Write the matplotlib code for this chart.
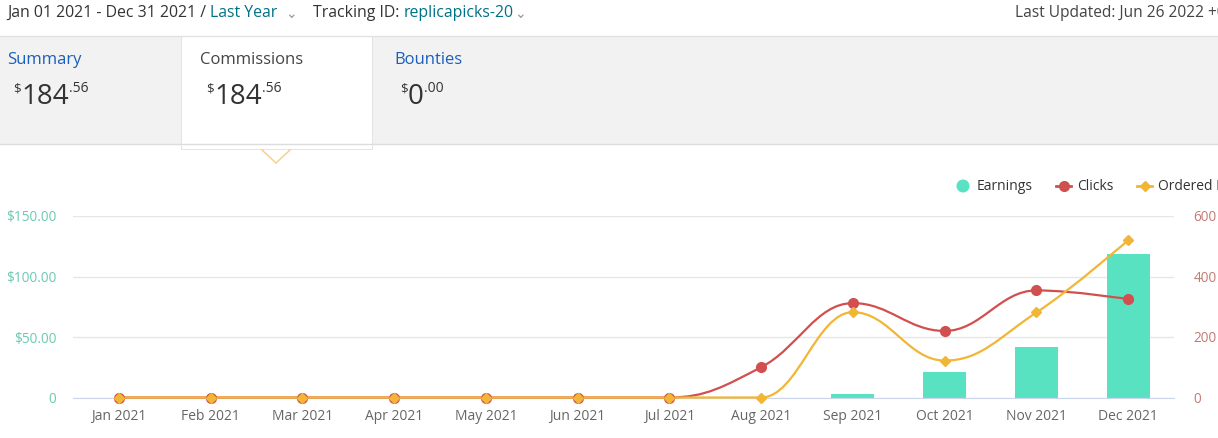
import numpy as np
import matplotlib.pyplot as plt
from matplotlib.path import Path
from matplotlib.patches import PathPatch, Rectangle, Circle

plt.rcParams['font.family'] = ['Open Sans', 'DejaVu Sans']

months = ['Jan 2021', 'Feb 2021', 'Mar 2021', 'Apr 2021', 'May 2021', 'Jun 2021',
          'Jul 2021', 'Aug 2021', 'Sep 2021', 'Oct 2021', 'Nov 2021', 'Dec 2021']
earnings = [0, 0, 0, 0, 0, 0, 0, 0, 3.0, 21.0, 42.0, 118.5]
clicks = [0, 0, 0, 0, 0, 0, 0, 100, 312, 220, 354, 325]
ordered = [0, 0, 0, 0, 0, 0, 0, 0, 282, 122, 281, 520]

TEAL = '#58e2c2'
RED = '#d24f4f'
ORANGE = '#f2b636'


def spline_path(xs, ys, smoothing=1.5):
    # highcharts style spline: bezier control points per point
    n = len(xs)
    lc = [None] * n
    rc = [None] * n
    d = smoothing + 1
    for i in range(1, n - 1):
        x, y = xs[i], ys[i]
        lx, ly = xs[i - 1], ys[i - 1]
        nx, ny = xs[i + 1], ys[i + 1]
        lcx = (smoothing * x + lx) / d
        lcy = (smoothing * y + ly) / d
        rcx = (smoothing * x + nx) / d
        rcy = (smoothing * y + ny) / d
        corr = (rcy - lcy) * (rcx - x) / (rcx - lcx) + y - rcy
        lcy += corr
        rcy += corr
        if lcy > ly and lcy > y:
            lcy = max(ly, y); rcy = 2 * y - lcy
        elif lcy < ly and lcy < y:
            lcy = min(ly, y); rcy = 2 * y - lcy
        if rcy > ny and rcy > y:
            rcy = max(ny, y); lcy = 2 * y - rcy
        elif rcy < ny and rcy < y:
            rcy = min(ny, y); lcy = 2 * y - rcy
        lc[i] = (lcx, lcy)
        rc[i] = (rcx, rcy)
    verts = [(xs[0], ys[0])]
    codes = [Path.MOVETO]
    for i in range(1, n):
        c1 = rc[i - 1] or (xs[i - 1], ys[i - 1])
        c2 = lc[i] or (xs[i], ys[i])
        verts += [c1, c2, (xs[i], ys[i])]
        codes += [Path.CURVE4] * 3
    return Path(verts, codes)


fig = plt.figure(figsize=(12.18, 4.38), dpi=100)
bg = fig.add_axes([0, 0, 1, 1])
bg.set_xlim(0, 1218)
bg.set_ylim(438, 0)
bg.axis('off')

# header strip
dark = '#333333'
link = '#007185'
t = bg.text(7, 13, 'Jan 01 2021 - Dec 31 2021 / ', fontsize=11.4, color=dark, va='center')
t = bg.annotate('Last Year', xy=(1, 0.5), xycoords=t, fontsize=11.4, color=link, va='center')
bg.text(291, 14, '⌄', fontsize=10, color='#999999', ha='center', va='center', family='DejaVu Sans')
t = bg.text(313, 13, 'Tracking ID: ', fontsize=11.4, color=dark, va='center')
bg.annotate('replicapicks-20', xy=(1, 0.5), xycoords=t, fontsize=11.4, color=link, va='center')
bg.text(520, 14, '⌄', fontsize=10, color='#999999', ha='center', va='center', family='DejaVu Sans')
bg.text(1015, 13, 'Last Updated: Jun 26 2022 +0', fontsize=11.2, color='#444444', va='center')

# grey panel with tabs
bg.add_patch(Rectangle((0, 36), 1218, 108, fc='#f2f2f2', ec='none'))
bg.plot([0, 1218], [36, 36], color='#e2e2e2', lw=1)
bg.plot([0, 1218], [144, 144], color='#dddddd', lw=1)
bg.add_patch(Rectangle((181, 36), 192, 114, fc='#e4e4e4', ec='none'))
bg.add_patch(Rectangle((182, 36), 190, 113, fc='white', ec='none'))
bg.plot([262, 276, 290], [150, 163, 150], color='#f7cd85', lw=1)

tabs = [(7, 'Summary', '#1a5fbf', '184', '.56'),
        (200, 'Commissions', '#444444', '184', '.56'),
        (394, 'Bounties', '#1a5fbf', '0', '.00')]
for x0, name, col, big, cents in tabs:
    bg.text(x0, 60, name, fontsize=12, color=col, va='center')
    tb = bg.text(x0 + 14, 104, big, fontsize=20, color='#333333', va='baseline')
    bg.annotate('$', xy=(0, 0.8), xycoords=tb, fontsize=9.5, color='#333333', ha='right', va='center')
    bg.annotate(cents, xy=(1, 0.8), xycoords=tb, fontsize=10, color='#333333', ha='left', va='center')

# legend
bg.add_patch(Circle((963, 186), 6.5, fc=TEAL, ec='none'))
bg.text(977, 186, 'Earnings', fontsize=10, color='#333333', va='center')
bg.plot([1056, 1071], [186, 186], color=RED, lw=2)
bg.plot([1063.5], [186], 'o', color=RED, ms=7)
bg.text(1077, 186, 'Clicks', fontsize=10, color='#333333', va='center')
bg.plot([1137, 1152], [186, 186], color=ORANGE, lw=2)
bg.plot([1144.5], [186], 'D', color=ORANGE, ms=5)
bg.text(1158, 186, 'Ordered Items', fontsize=10, color='#333333', va='center')

# chart
ax = fig.add_axes([73 / 1218, (438 - 397.5) / 438, (1174 - 73) / 1218, 181.5 / 438])
x = np.arange(len(months))
ax.bar(x, earnings, width=0.47, color=TEAL, zorder=2)
ax.set_xlim(-0.5, 11.5)
ax.set_ylim(0, 150)
ax.set_yticks([0, 50, 100, 150])
ax.set_yticklabels(['0', '$50.00', '$100.00', '$150.00'])
ax.set_xticks(x)
ax.set_xticklabels(months)
ax.grid(axis='y', color='#e6e6e6', lw=1, zorder=0)
ax.set_axisbelow(True)
for s in ['top', 'left', 'right']:
    ax.spines[s].set_visible(False)
ax.spines['bottom'].set_color('#ccd6eb')
ax.tick_params(axis='y', length=0, pad=12, labelsize=9.8, labelcolor='#6cc9b2')
ax.tick_params(axis='x', length=0, pad=8, labelsize=10, labelcolor='#666666')

ax2 = ax.twinx()
ax2.set_ylim(0, 600)
ax2.set_yticks([0, 200, 400, 600])
for s in ax2.spines.values():
    s.set_visible(False)
ax2.tick_params(axis='y', length=0, pad=14, labelsize=9.8, labelcolor='#c27a72')

ax2.add_patch(PathPatch(spline_path(x, clicks), fc='none', ec=RED, lw=1.6, clip_on=False))
ax2.plot(x, clicks, 'o', color=RED, ms=7, clip_on=False)
ax2.add_patch(PathPatch(spline_path(x, ordered), fc='none', ec=ORANGE, lw=1.6, clip_on=False))
ax2.plot(x, ordered, 'D', color=ORANGE, ms=5.5, clip_on=False)

fig.savefig('out.png', dpi=100)
